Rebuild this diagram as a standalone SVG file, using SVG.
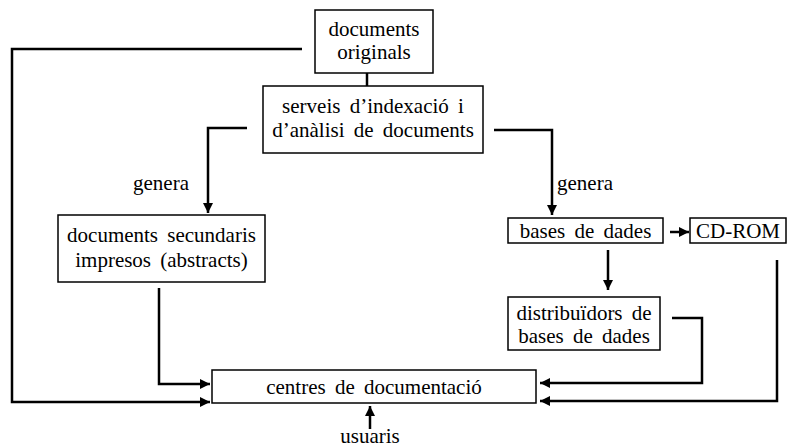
<svg xmlns="http://www.w3.org/2000/svg" width="788" height="448" viewBox="0 0 788 448">
<style>
.box{fill:#fff;stroke:#000;stroke-width:1.5}
text{font-family:'Liberation Serif','DejaVu Serif',serif;font-size:21px;word-spacing:4px;fill:#000}
.t{text-anchor:middle}
.c{fill:none;stroke:#000;stroke-width:2.5;stroke-linejoin:miter}
</style>
<defs>
<marker id="ah" markerUnits="userSpaceOnUse" markerWidth="12" markerHeight="12" refX="10" refY="6" orient="auto">
<path d="M0,1 L10,6 L0,11 z" fill="#000"/>
</marker>
</defs>
<rect width="788" height="448" fill="#fff"/>
<g id="connectors">
<path class="c" d="M302,49 H12 V402 H210" marker-end="url(#ah)"/>
<path class="c" d="M367,73 V86"/>
<path class="c" d="M247,128 H208 V213" marker-end="url(#ah)"/>
<path class="c" d="M494,130 H552 V215" marker-end="url(#ah)"/>
<path class="c" d="M159,288 V384 H210" marker-end="url(#ah)"/>
<path class="c" d="M670,232 H689" marker-end="url(#ah)"/>
<path class="c" d="M608,250 V290" marker-end="url(#ah)"/>
<path class="c" d="M672,318 H702 V383 H540" marker-end="url(#ah)"/>
<path class="c" d="M777,260 V401 H540" marker-end="url(#ah)"/>
<path class="c" d="M370,429 V406" marker-end="url(#ah)"/>
</g>
<g id="documents-originals">
<rect class="box" x="315" y="10" width="118" height="63"/>
<text class="t" x="374" y="36">documents</text>
<text class="t" x="374" y="59">originals</text>
</g>
<g id="serveis">
<rect class="box" x="263" y="86" width="220" height="67"/>
<text class="t" x="373" y="113">serveis d’indexació i</text>
<text class="t" x="373" y="137">d’anàlisi de documents</text>
</g>
<g id="label-genera-left">
<text x="133" y="190">genera</text>
</g>
<g id="label-genera-right">
<text x="557" y="190">genera</text>
</g>
<g id="documents-secundaris">
<rect class="box" x="58" y="215" width="207" height="67"/>
<text class="t" x="161.5" y="242">documents secundaris</text>
<text class="t" x="161.5" y="267">impresos (abstracts)</text>
</g>
<g id="bases-de-dades">
<rect class="box" x="508" y="218" width="155" height="25"/>
<text class="t" x="585.5" y="238">bases de dades</text>
</g>
<g id="cd-rom">
<rect class="box" x="690" y="218" width="96" height="25"/>
<text class="t" x="738" y="238">CD-ROM</text>
</g>
<g id="distribuidors">
<rect class="box" x="508" y="297" width="152" height="53"/>
<text class="t" x="584" y="320">distribuïdors de</text>
<text class="t" x="584" y="343">bases de dades</text>
</g>
<g id="centres">
<rect class="box" x="212" y="370" width="324" height="33"/>
<text class="t" x="374" y="394">centres de documentació</text>
</g>
<g id="usuaris">
<text class="t" x="370" y="443">usuaris</text>
</g>
</svg>
